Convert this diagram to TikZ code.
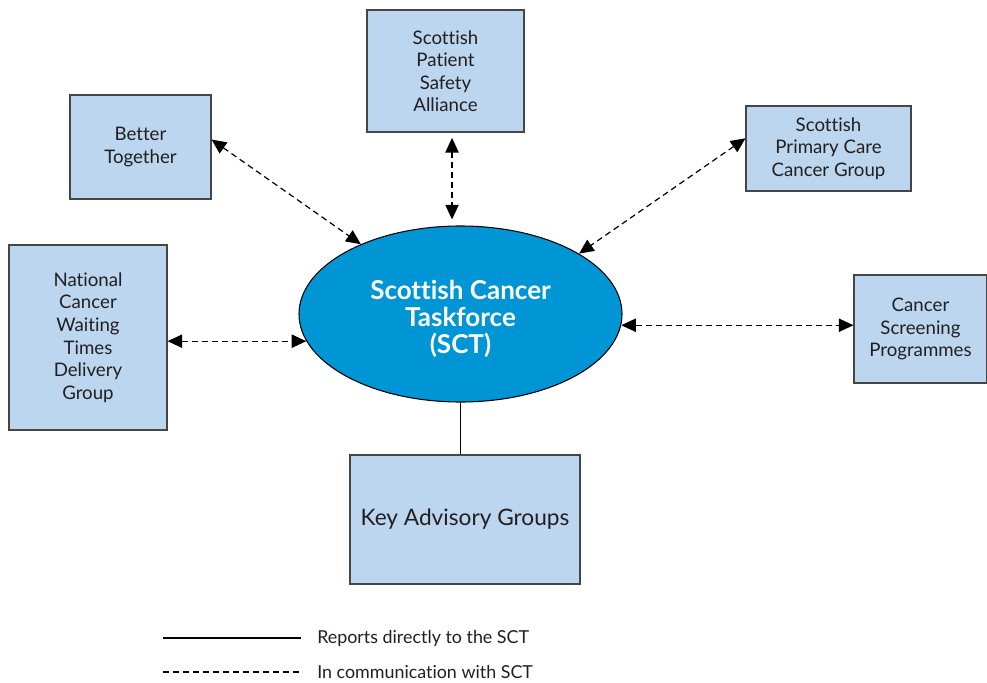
\documentclass[tikz,border=0pt]{standalone}
\usepackage{fontspec}
\setmainfont{Lato}[Ligatures=NoCommon]
\usetikzlibrary{shapes.geometric,arrows.meta}
\definecolor{boxblue}{RGB}{187,214,238}
\definecolor{sctblue}{RGB}{0,150,214}
\definecolor{boxline}{RGB}{70,70,70}
\definecolor{inktext}{RGB}{35,31,32}

\begin{document}
\begin{tikzpicture}[x=0.75pt,y=-0.75pt,
  every node/.style={inner sep=0pt, text=inktext},
  group/.style={draw=boxline, fill=boxblue, line width=0.8pt, align=center,
    font=\fontsize{14}{16.9}\selectfont},
  taskforce/.style={ellipse, draw=black, fill=sctblue, line width=0.8pt},
  sctname/.style={align=center, text=white, font=\fontsize{19.5}{20}\selectfont\bfseries},
  dashline/.style={line width=0.9pt, dash pattern=on 4.5pt off 3pt},
  comm/.style={dashline, {Triangle[length=11pt,width=10pt]}-{Triangle[length=11pt,width=10pt]}},
  reports/.style={line width=0.9pt},
  legend/.style={anchor=west, font=\fontsize{13.4}{16}\selectfont}]

 	\useasboundingbox (0,0) rectangle (987,682);

 	% centre and partner groups
 	\node[taskforce, minimum width=242.25pt, minimum height=132pt] (sct) at (460.5,314) {};
 	\node[sctname] (sctlabel) at (460.5,319) {Scottish Cancer\\Taskforce\\(SCT)};
 	\node[group, minimum width=105.75pt, minimum height=78pt] (better) at (140.5,147) {Better\\Together};
 	\node[group, minimum width=117.75pt, minimum height=91.5pt] (spsa) at (445.5,71) {Scottish\\Patient\\Safety\\Alliance};
 	\node[group, minimum width=123.75pt, minimum height=63.75pt] (spcg) at (828.5,148.5) {Scottish\\Primary Care\\Cancer Group};
 	\node[group, minimum width=118.5pt, minimum height=138.75pt] (ncwt) at (88,337.5) {National\\Cancer\\Waiting\\Times\\Delivery\\Group};
 	\node[group, minimum width=99.75pt, minimum height=81pt] (screening) at (920.5,329) {Cancer\\Screening\\Programmes};
 	\node[group, minimum width=172.5pt, minimum height=96.75pt, font=\fontsize{17}{20}\selectfont] (kag) at (465,519.5) {Key Advisory Groups};

 	% links
 	\draw[comm] (better.6) -- (sct.145);
 	\draw[comm, shorten <=4pt, shorten >=4.5pt] ([xshift=4.9pt]spsa.south) -- ([xshift=4.9pt]spsa.south |- sct.north);
 	\draw[comm] (spcg.173) -- (sct.27);
 	\draw[comm] (sct.190 -| ncwt.east) -- (sct.190);
 	\draw[comm] (sct.-4) -- (sct.-4 -| screening.west);
 	\draw[reports] (sct.south) -- (sct.south |- kag.north);

 	% key
 	\coordinate (solidA) at (163,638);
 	\coordinate (solidB) at (301,638);
 	\coordinate (dashA) at (163,672);
 	\coordinate (dashB) at (301,672);
 	\draw[reports] (solidA) -- (solidB);
 	\draw[dashline] (dashA) -- (dashB);
 	\node[legend] (solidtext) at (317,638) {Reports directly to the SCT};
 	\node[legend] (dashtext) at (317,672) {In communication with SCT};
\end{tikzpicture}
\end{document}
